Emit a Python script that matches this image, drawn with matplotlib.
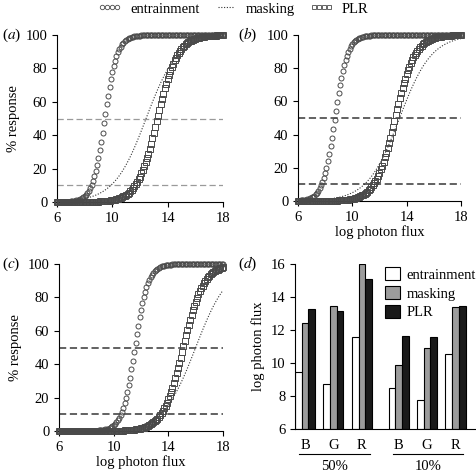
import numpy as np
import matplotlib
matplotlib.use('Agg')
import matplotlib.pyplot as plt
from matplotlib.lines import Line2D

plt.rcParams['font.family'] = ['Liberation Serif', 'DejaVu Serif']
plt.rcParams['mathtext.fontset'] = 'stix'
plt.rcParams['font.size'] = 10

# Data: log photon flux giving 50% and 10% response, per light colour
colours = ['B', 'G', 'R']
entrain_50 = [9.45, 8.72, 11.55]
masking_50 = [12.44, 13.48, 16.0]
plr_50 = [13.25, 13.15, 15.08]
entrain_10 = [8.48, 7.73, 10.53]
masking_10 = [9.9, 10.88, 13.38]
plr_10 = [11.65, 11.55, 13.44]
levels = ['50%', '10%']


def response(x, x50, x10):
    # logistic dose-response fit passing through the 10% and 50% points
    s = (x50 - x10) / np.log(9)
    return 100 / (1 + np.exp(-(x - x50) / s))


flux = np.linspace(6, 18, 121)
edge = '#4a4a4a'

fig = plt.figure(figsize=(4.76, 4.73), dpi=100)

boxes = [[0.1197, 0.5729, 0.3487, 0.353],
         [0.626, 0.575, 0.3424, 0.351],
         [0.124, 0.0888, 0.3445, 0.353]]
dash_style = [('#9a9a9a', 0.9, (5, 2.6)),
              ('#555555', 1.3, (4, 2)),
              ('#555555', 1.3, (4, 2))]

for i, box in enumerate(boxes):
    ax = fig.add_axes(box)
    c, lw, dash = dash_style[i]
    for level in [50, 10]:
        ax.axhline(level, color=c, lw=lw, dashes=dash, zorder=1)
    ax.plot(flux, response(flux, masking_50[i], masking_10[i]),
            color='#333333', lw=0.8, ls=(0, (1, 1.5)), zorder=2)
    ax.plot(flux, response(flux, entrain_50[i], entrain_10[i]), 'o',
            ms=3.6, mfc='none', mec=edge, mew=0.7, clip_on=False, zorder=3)
    ax.plot(flux, response(flux, plr_50[i], plr_10[i]), 's',
            ms=3.7, mfc='none', mec=edge, mew=0.7, clip_on=False, zorder=3)
    ax.set_xlim(6, 18)
    ax.set_ylim(0, 100)
    ax.set_xticks([6, 10, 14, 18])
    ax.set_yticks(range(0, 101, 20))
    for side in ['top', 'right']:
        ax.spines[side].set_visible(False)
    ax.tick_params(direction='out', length=3.5, width=0.8, labelsize=10.5)
    if i != 1:
        ax.set_ylabel('% response', fontsize=10.5)
    if i != 0:
        ax.set_xlabel('log photon flux', fontsize=10.5, labelpad=1)

# Panel (d): bar chart of thresholds
axd = fig.add_axes([0.6197, 0.093, 0.378, 0.349])
starts = np.array([0, 4.25, 8.5, 14, 18.25, 22.5])
entrain = entrain_50 + entrain_10
masking = masking_50 + masking_10
plr = plr_50 + plr_10
bar_kw = dict(width=1, bottom=6, edgecolor='black', linewidth=0.8, align='edge')
axd.bar(starts, np.array(entrain) - 6, color='white', label='entrainment', **bar_kw)
axd.bar(starts + 1, np.array(masking) - 6, color='#9c9c9c', label='masking', **bar_kw)
axd.bar(starts + 2, np.array(plr) - 6, color='#1a1a1a', label='PLR', **bar_kw)
axd.set_xlim(0, 26.9)
axd.set_ylim(6, 16)
axd.set_yticks(range(6, 17, 2))
axd.set_xticks(starts + 1.5)
axd.set_xticklabels(colours * 2)
for side in ['top', 'right']:
    axd.spines[side].set_visible(False)
axd.tick_params(axis='y', direction='out', length=3.5, width=0.8, labelsize=10.5)
axd.tick_params(axis='x', length=0, pad=7, labelsize=10.5)
axd.set_ylabel('log photon flux', fontsize=10.5)
axd.legend(loc='upper right', bbox_to_anchor=(1.08, 1.06), frameon=False,
           handlelength=1.0, handleheight=1.0, handletextpad=0.5,
           labelspacing=0.3, fontsize=10.5)

trans = axd.get_xaxis_transform()
for (x0, x1), name in zip([(0.64, 11.2), (14.6, 25.1)], levels):
    axd.plot([x0, x1], [-0.152, -0.152], color='black', lw=0.8,
             transform=trans, clip_on=False)
    axd.text((x0 + x1) / 2, -0.228, name, transform=trans,
             ha='center', va='center', fontsize=10.5)

# Panel letters
for label, (x, y) in zip('abcd', [(0.004, 0.926), (0.5, 0.926),
                                  (0.004, 0.442), (0.5, 0.442)]):
    fig.text(x, y, '($\\mathit{%s}$)' % label, fontsize=11, va='center')

# Top legend
handles = [Line2D([], [], ls='none', marker='o', ms=3.2, mfc='none', mec=edge, mew=0.6),
           Line2D([], [], color='#333333', lw=0.8, ls=(0, (1, 1.5))),
           Line2D([], [], ls='none', marker='s', ms=3.4, mfc='none', mec=edge, mew=0.6)]
fig.legend(handles, ['entrainment', 'masking', 'PLR'], loc='center',
           bbox_to_anchor=(0.49, 0.981), ncol=3, frameon=False, numpoints=4,
           handlelength=1.6, handletextpad=0.6, columnspacing=1.0, fontsize=10.5)

fig.savefig('out.png', dpi=100)
